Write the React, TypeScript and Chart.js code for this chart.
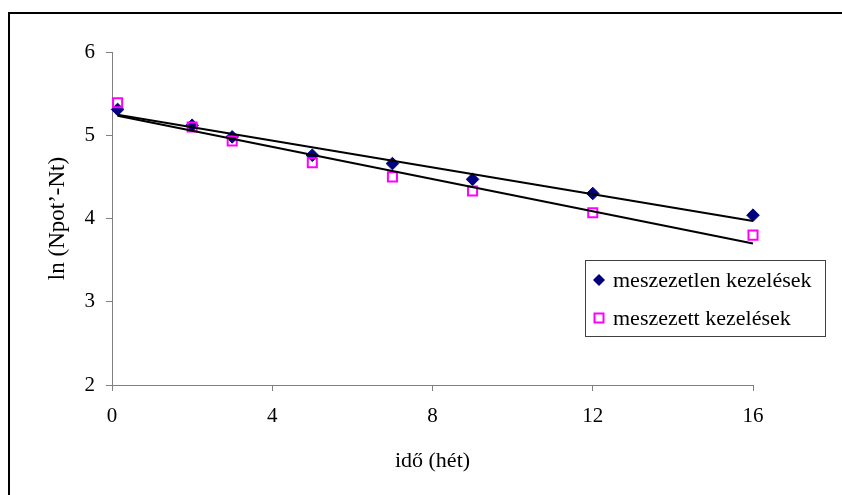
import React, { useEffect, useRef } from "react";
import { Chart, registerables } from "chart.js";

Chart.register(...registerables);

const weeks = [0.14, 2, 3, 5, 7, 9, 12, 16];
const meszezetlen = [5.31, 5.12, 4.98, 4.76, 4.66, 4.47, 4.3, 4.04];
const meszezett = [5.39, 5.1, 4.93, 4.67, 4.5, 4.33, 4.07, 3.8];
const trendX = [0.14, 16];
const trendMeszezetlen = [5.245, 3.97];
const trendMeszezett = [5.235, 3.7];
const seriesLabels = ["meszezetlen kezelések", "meszezett kezelések"];
const xTitle = "idő (hét)";
const yTitle = "ln (Npot’-Nt)";

const FONT = "'Liberation Serif', 'Times New Roman', serif";

const framePlugin = {
  id: "frame",
  beforeDraw(chart: any) {
    const ctx = chart.ctx;
    ctx.save();
    ctx.fillStyle = "#ffffff";
    ctx.fillRect(0, 0, chart.width, chart.height);
    ctx.strokeStyle = "#000000";
    ctx.lineWidth = 2;
    ctx.strokeRect(9, 13, chart.width + 20, chart.height + 20);
    ctx.restore();
  },
};

const legendPlugin = {
  id: "boxLegend",
  afterDraw(chart: any) {
    const ctx = chart.ctx;
    const bx = 585.5;
    const by = 260.5;
    const bw = 240;
    const bh = 76;
    ctx.save();
    ctx.fillStyle = "#ffffff";
    ctx.fillRect(bx, by, bw, bh);
    ctx.strokeStyle = "#404040";
    ctx.lineWidth = 1;
    ctx.strokeRect(bx, by, bw, bh);
    const rows = [280, 318];
    ctx.font = `22px ${FONT}`;
    ctx.textBaseline = "middle";
    const mx = 599;
    ctx.fillStyle = "#000080";
    ctx.beginPath();
    ctx.moveTo(mx, rows[0] - 6);
    ctx.lineTo(mx + 6, rows[0]);
    ctx.lineTo(mx, rows[0] + 6);
    ctx.lineTo(mx - 6, rows[0]);
    ctx.closePath();
    ctx.fill();
    ctx.strokeStyle = "#FF00FF";
    ctx.lineWidth = 2;
    ctx.strokeRect(mx - 4.5, rows[1] - 4.5, 9, 9);
    ctx.fillStyle = "#000000";
    ctx.fillText(seriesLabels[0], 613, rows[0] + 1);
    ctx.fillText(seriesLabels[1], 613, rows[1] + 1);
    ctx.restore();
  },
};

export default function App() {
  const ref = useRef<HTMLCanvasElement>(null);

  useEffect(() => {
    if (!ref.current) return;
    const toPts = (xs: number[], ys: number[]) => xs.map((x, i) => ({ x, y: ys[i] }));
    const chart = new Chart(ref.current, {
      type: "scatter",
      data: {
        datasets: [
          {
            type: "line",
            label: "trend 1",
            data: toPts(trendX, trendMeszezetlen),
            borderColor: "#000000",
            borderWidth: 2,
            pointRadius: 0,
            showLine: true,
            fill: false,
            clip: false,
            order: 0,
          },
          {
            type: "line",
            label: "trend 2",
            data: toPts(trendX, trendMeszezett),
            borderColor: "#000000",
            borderWidth: 2,
            pointRadius: 0,
            showLine: true,
            fill: false,
            clip: false,
            order: 0,
          },
          {
            label: seriesLabels[1],
            data: toPts(weeks, meszezett),
            pointStyle: "rect",
            pointRadius: 6.4,
            pointBorderWidth: 2,
            pointBackgroundColor: "rgba(255,255,255,0)",
            pointBorderColor: "#FF00FF",
            clip: false,
            order: 1,
          },
          {
            label: seriesLabels[0],
            data: toPts(weeks, meszezetlen),
            pointStyle: "rectRot",
            pointRadius: 6.3,
            pointBorderWidth: 1,
            pointBackgroundColor: "#000080",
            pointBorderColor: "#000080",
            clip: false,
            order: 2,
          },
        ],
      },
      options: {
        responsive: false,
        animation: false,
        devicePixelRatio: 1,
        layout: { padding: { left: 0, top: 52, right: 89, bottom: 0 } },
        plugins: {
          legend: { display: false },
          tooltip: { enabled: false },
        },
        scales: {
          x: {
            type: "linear",
            min: 0,
            max: 16,
            afterFit: (s: any) => {
              s.height = 110;
            },
            ticks: {
              stepSize: 4,
              padding: 13,
              color: "#000000",
              font: { family: FONT, size: 21 },
            },
            grid: {
              drawOnChartArea: false,
              drawTicks: true,
              tickLength: 6,
              color: "#808080",
            },
            border: { display: true, color: "#808080", width: 1 },
            title: {
              display: true,
              text: xTitle,
              color: "#000000",
              font: { family: FONT, size: 22 },
              padding: { top: 0, bottom: 21 },
            },
          },
          y: {
            type: "linear",
            min: 2,
            max: 6,
            afterFit: (s: any) => {
              s.width = 112;
            },
            ticks: {
              stepSize: 1,
              padding: 11,
              color: "#000000",
              font: { family: FONT, size: 21 },
            },
            grid: {
              drawOnChartArea: false,
              drawTicks: true,
              tickLength: 6,
              color: "#808080",
            },
            border: { display: true, color: "#808080", width: 1 },
            title: {
              display: true,
              text: yTitle,
              color: "#000000",
              font: { family: FONT, size: 23 },
              padding: { top: 44, bottom: 0 },
            },
          },
        },
      },
      plugins: [framePlugin, legendPlugin],
    } as any);
    return () => chart.destroy();
  }, []);

  return (
    <div style={{ position: "absolute", left: 0, top: 0, width: 842, height: 495 }}>
      <canvas ref={ref} width={842} height={495} style={{ display: "block" }} />
    </div>
  );
}
